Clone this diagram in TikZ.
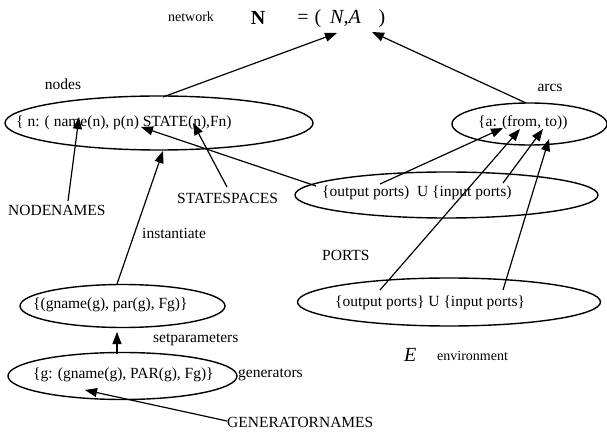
\documentclass[tikz,border=0pt]{standalone}
\usepackage{fontspec}
\setmainfont{Liberation Serif}
\usetikzlibrary{arrows.meta,shapes.geometric}
\begin{document}
\begin{tikzpicture}[x=1pt,y=-1pt,
  lbl/.style={font=\fontsize{15.5}{18}\selectfont, inner sep=0pt},
  small/.style={font=\fontsize{14}{16}\selectfont, inner sep=0pt},
  big/.style={font=\fontsize{20}{22}\selectfont, inner sep=0pt},
  oval/.style={draw, ellipse, line width=1.4pt, inner sep=0pt},
  arr/.style={line width=1.2pt, -{Triangle[length=12pt,width=9pt]}}]
\useasboundingbox (0,0) rectangle (607,435);
% ellipses
\node[oval, minimum width=308pt, minimum height=54pt] (nodesE) at (159,123) {};
\node[oval, minimum width=155pt, minimum height=42pt] (arcsE) at (529.5,124) {};
\node[oval, minimum width=303pt, minimum height=46pt] (portsA) at (446.5,195) {};
\node[oval, minimum width=303pt, minimum height=48pt] (portsB) at (449,302) {};
\node[oval, minimum width=205pt, minimum height=43pt] (genA) at (122.5,306) {};
\node[oval, minimum width=229pt, minimum height=47pt] (genB) at (122.5,376) {};
% texts
\node[small] (network) at (191,17) {network};
\node[big, font=\fontsize{20}{22}\selectfont\bfseries] (bigN) at (258,18) {N};
\node[big, anchor=base] (eq) at (303,24) {=};
\node[big, anchor=base] (lp) at (318,24) {(};
\node[big, anchor=base west] (NA) at (330,24) {\textit{N},\textit{A}};
\node[big, anchor=base] (rp) at (382,24) {)};
\node[lbl] (nodesL) at (63,84) {nodes};
\node[lbl] (arcsL) at (550,88) {arcs};
\node[lbl, anchor=west] (nodesT) at (16,123) {\{ n: ( name(n), p(n) STATE(n),Fn)};
\node[lbl, anchor=west] (arcsT) at (478,123) {\{a: (from, to))};
\node[lbl, anchor=west] (portsAT) at (322,193) {\{output ports)\ \ U \{input ports)};
\node[lbl, anchor=west] (portsBT) at (335,303) {\{output ports\} U \{input ports\}};
\node[lbl, anchor=west] (nodenames) at (8,210) {NODENAMES};
\node[lbl, anchor=west] (statespaces) at (177,198) {STATESPACES};
\node[lbl, anchor=west] (instantiate) at (142,233) {instantiate};
\node[lbl, anchor=west] (portsL) at (322,255) {PORTS};
\node[lbl, anchor=west] (genAT) at (33,305) {\{(gname(g), par(g), Fg)\}};
\node[lbl, anchor=west] (setparam) at (153,340) {setparameters};
\node[lbl, anchor=west] (genBT) at (33,375) {\{g: (gname(g), PAR(g), Fg)\}};
\node[lbl, anchor=west] (generators) at (238,375) {generators};
\node[lbl, anchor=west] (gennames) at (227,422) {GENERATORNAMES};
\node[big, anchor=west] (E) at (404,355) {\textit{E}};
\node[small, anchor=west] (environment) at (437,356) {environment};
% connector end points
\coordinate (tipN) at (337,33);
\coordinate (tipA) at (372,32);
\coordinate (sNodes) at (163,97);
\coordinate (sArcs) at (526,103);
\coordinate (sNN) at (68,201);
\coordinate (tNN) at (79,117);
\coordinate (sSS) at (227,187);
\coordinate (tSS) at (193,123);
\coordinate (sPn) at (316,186);
\coordinate (tPn) at (141,127);
\coordinate (sInst) at (117,284);
\coordinate (tInst) at (163,151);
\coordinate (sSet) at (117,354);
\coordinate (tSet) at (117,332);
\coordinate (sGN) at (227,421);
\coordinate (tGN) at (85,390);
\coordinate (s1) at (380,184);
\coordinate (t1) at (503,128);
\coordinate (s2) at (380,290);
\coordinate (t2) at (520,129);
\coordinate (s3) at (503,183);
\coordinate (t3) at (543,129);
\coordinate (s4) at (503,290);
\coordinate (t4) at (549,139);
% connectors
\draw[arr] (sNodes) -- (tipN);
\draw[arr] (sArcs) -- (tipA);
\draw[arr] (sNN) -- (tNN);
\draw[arr] (sSS) -- (tSS);
\draw[arr] (sPn) -- (tPn);
\draw[arr] (sInst) -- (tInst);
\draw[arr] (sSet) -- (tSet);
\draw[arr] (sGN) -- (tGN);
\draw[arr] (s1) -- (t1);
\draw[arr] (s2) -- (t2);
\draw[arr] (s3) -- (t3);
\draw[arr] (s4) -- (t4);
\end{tikzpicture}
\end{document}
